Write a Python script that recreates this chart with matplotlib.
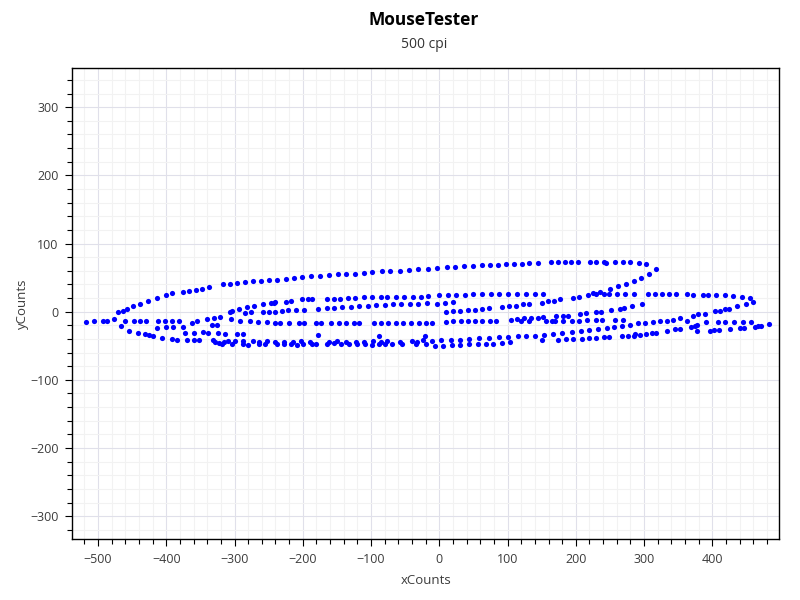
import numpy as np
import matplotlib.pyplot as plt
from matplotlib.ticker import MultipleLocator

plt.rcParams['font.family'] = ['Open Sans', 'DejaVu Sans']

# mouse samples (xCounts, yCounts), split by x range
seg_a_x = [-518, -506, -492, -487, -476,
           -470, -464, -457, -449, -439, -427, -414, -400, -392, -375, -366, -356, -347, -337, -317, -307, -296, -285, -273,
           -461, -447, -438, -430, -412, -402, -392, -382, -363, -355, -340, -330, -322, -305,
           -467, -413, -400, -390, -375, -333, -325, -292, -278,
           -455, -441, -431, -425, -419, -373, -360, -346, -339, -324, -314, -296, -287,
           -406, -392, -385, -369, -360, -352, -331, -328, -323, -319, -315, -309, -303, -299, -288, -287, -280, -273,
           -307, -304, -294, -282, -272, -284, -276]
seg_a_y = [-15, -14, -14, -14, -11,
           -1, 1, 4, 8, 12, 16, 20, 25, 27, 29, 31, 32, 34, 36, 40, 40, 42, 43, 45,
           -14, -14, -14, -14, -14, -14, -14, -14, -17, -14, -11, -9, -8, -11,
           -21, -24, -22, -22, -23, -20, -20, -14, -14,
           -28, -31, -33, -34, -35, -31, -31, -30, -31, -31, -33, -33, -33,
           -38, -40, -41, -41, -41, -41, -42, -45, -46, -47, -44, -43, -47, -43, -43, -47, -49, -43,
           0, 1, 4, 7, 9, -2, -1]

seg_b_x = [-261, -250, -238, -225, -213, -201, -188, -175, -162, -149, -137, -124, -111, -98, -84, -72, -57, -44, -31, -17,
           -259, -247, -242, -240, -225, -217, -201, -193, -186, -164, -155, -145, -134, -123, -111, -98, -86, -76, -64, -52, -39, -27, -17,
           -259, -250, -240, -230, -221, -210, -198, -177, -164, -154, -143, -130, -118, -105, -93, -80, -68, -56, -43, -31, -18,
           -265, -253, -241, -233, -220, -205, -198, -181, -173, -159, -147, -136, -125, -117, -96, -85, -75, -64, -53, -41, -30, -20,
           -177, -88, -21,
           -264, -264, -256, -252, -240, -238, -228, -227, -217, -215, -209, -202, -199, -190, -187, -181, -165, -162, -155, -150,
           -144, -136, -132, -122, -121, -110, -109, -97, -98, -89, -85, -79, -76, -69, -57, -54, -40, -34, -33, -24, -20]
seg_b_y = [45, 46, 47, 48, 49, 51, 52, 53, 54, 55, 55, 56, 57, 58, 59, 59, 60, 61, 62, 63,
           12, 13, 13, 14, 14, 15, 18, 18, 18, 18, 19, 19, 20, 20, 21, 21, 21, 21, 21, 22, 22, 22, 23,
           -1, 0, 0, 1, 2, 2, 2, 4, 6, 6, 7, 7, 8, 9, 10, 10, 11, 11, 12, 12, 13,
           -15, -15, -16, -16, -17, -17, -17, -17, -17, -17, -17, -17, -17, -17, -17, -17, -17, -17, -17, -17, -17, -16,
           -34, -36, -35,
           -44, -48, -48, -43, -44, -48, -44, -48, -47, -44, -49, -43, -48, -44, -48, -48, -48, -44, -46, -43,
           -48, -44, -48, -44, -48, -44, -48, -43, -49, -48, -44, -48, -43, -48, -44, -48, -43, -48, -44, -42, -48]

seg_c_x = [-3, 11, 23, 36, 49, 62, 74, 86, 97, 109, 121, 132, 144, 164, 174, 184, 193, 203, 221, 229, 241,
           -1, 12, 25, 37, 50, 62, 76, 88, 101, 114, 127, 140, 152, 196, 204, 218, 225, 230, 236, 241,
           -3, 8, 20, 10, 20, 31, 42, 52, 63, 73, 92, 102, 112, 122, 131, 150, 159, 168, 177,
           -11, 10, 20, 32, 42, 53, 63, 74, 83, 105, 114, 119, 124, 131, 135, 145, 152, 156, 165, 171, 169,
           181, 181, 188, 194, 205, 206, 215, 217, 229, 230, 237, 238,
           -11, 2, 17, 31, 44, 58, 73, 87, 100, 115, 127, 140, 154, 167, 180, 194, 207, 220, 233,
           151, 174, 186, 196, 209, 220, 230, 241,
           -7, 5, 18, 30, 43, 56, 68, 79, 92, 103]
seg_c_y = [64, 65, 66, 67, 67, 68, 68, 69, 70, 70, 70, 71, 72, 73, 73, 73, 73, 73, 73, 73, 73,
           24, 25, 25, 25, 26, 26, 26, 26, 26, 26, 26, 26, 26, 20, 21, 25, 27, 26, 29, 26,
           12, 13, 14, 0, 1, 1, 2, 3, 4, 5, 7, 8, 9, 11, 12, 13, 15, 16, 18,
           -17, -15, -14, -14, -14, -14, -14, -14, -13, -12, -11, -14, -10, -14, -10, -9, -8, -13, -14, -6, -13,
           -7, -13, -6, -13, -13, -3, -2, -12, -12, -1, 0, -12,
           -43, -42, -42, -41, -40, -39, -38, -37, -37, -36, -36, -35, -34, -33, -31, -30, -28, -27, -26,
           -42, -41, -40, -40, -40, -39, -38, -37,
           -50, -50, -49, -49, -48, -48, -47, -47, -46, -45]

seg_d_x = [244, 257, 269, 279, 292, 303, 317, 307, 295, 285, 274, 262, 250,
           249, 261, 272, 285, 306, 316, 326, 336, 347, 363, 372, 386, 393, 406, 419, 430, 443, 455, 459, 449, 436, 424, 418, 411, 404,
           252, 265, 271, 282, 297,
           258, 269,
           246, 256, 268, 279, 291, 302, 313, 323, 333, 343, 353, 363, 371, 379, 389,
           368, 374, 378, 378, 390, 396, 403, 410, 409, 418, 426, 432, 441, 446, 445, 456, 462, 467, 472, 483,
           249, 267, 276, 285, 286, 294, 303, 312, 318, 333, 346, 352]
seg_d_y = [72, 73, 73, 73, 72, 70, 62, 55, 50, 45, 41, 37, 33,
           26, 26, 26, 26, 26, 26, 26, 26, 26, 26, 25, 25, 25, 25, 25, 23, 22, 20, 14, 11, 8, 4, 4, 1, 1,
           2, 4, 5, 8, 11,
           -12, -12,
           -24, -22, -21, -19, -17, -16, -15, -14, -14, -12, -10, -13, -6, -4, -3,
           -22, -21, -20, -29, -15, -28, -27, -27, -15, -15, -26, -15, -24, -24, -15, -15, -22, -21, -21, -18,
           -37, -36, -36, -35, -33, -34, -33, -32, -31, -28, -26, -25]

xs = np.array(seg_a_x + seg_b_x + seg_c_x + seg_d_x)
ys = np.array(seg_a_y + seg_b_y + seg_c_y + seg_d_y)

fig = plt.figure(figsize=(8, 6), dpi=100)
ax = fig.add_axes([0.0906, 0.1017, 0.8832, 0.7855])

ax.scatter(xs, ys, s=14, c='#0000ff', linewidths=0, zorder=3)

ax.set_xlim(-537.4, 497.7)
ax.set_ylim(-333.5, 358)
ax.xaxis.set_major_locator(MultipleLocator(100))
ax.xaxis.set_minor_locator(MultipleLocator(20))
ax.yaxis.set_major_locator(MultipleLocator(100))
ax.yaxis.set_minor_locator(MultipleLocator(20))

ax.set_axisbelow(True)
ax.grid(which='minor', color='#f2f2f2', lw=0.8)
ax.grid(which='major', color='#e0e0ea', lw=0.8)

ax.tick_params(which='major', length=5, width=0.8, color='black',
               labelsize=9, labelcolor='#3c3c3c', pad=5)
ax.tick_params(which='minor', length=3.3, width=0.8, color='black')
for sp in ax.spines.values():
    sp.set_color('black')
    sp.set_linewidth(1)

ax.set_xlabel('xCounts', fontsize=9.5, color='#3c3c3c', labelpad=6)
ax.set_ylabel('yCounts', fontsize=9.5, color='#3c3c3c', labelpad=1)

# titles sit centred over the plot area, not the figure
cx = 424 / 800
fig.text(cx, 1 - 20 / 600, 'MouseTester', ha='center', va='center',
         fontsize=12.5, fontweight='bold', color='black')
fig.text(cx, 1 - 44 / 600, '500 cpi', ha='center', va='center',
         fontsize=10, color='#333333')

fig.savefig('out.png', dpi=100)
